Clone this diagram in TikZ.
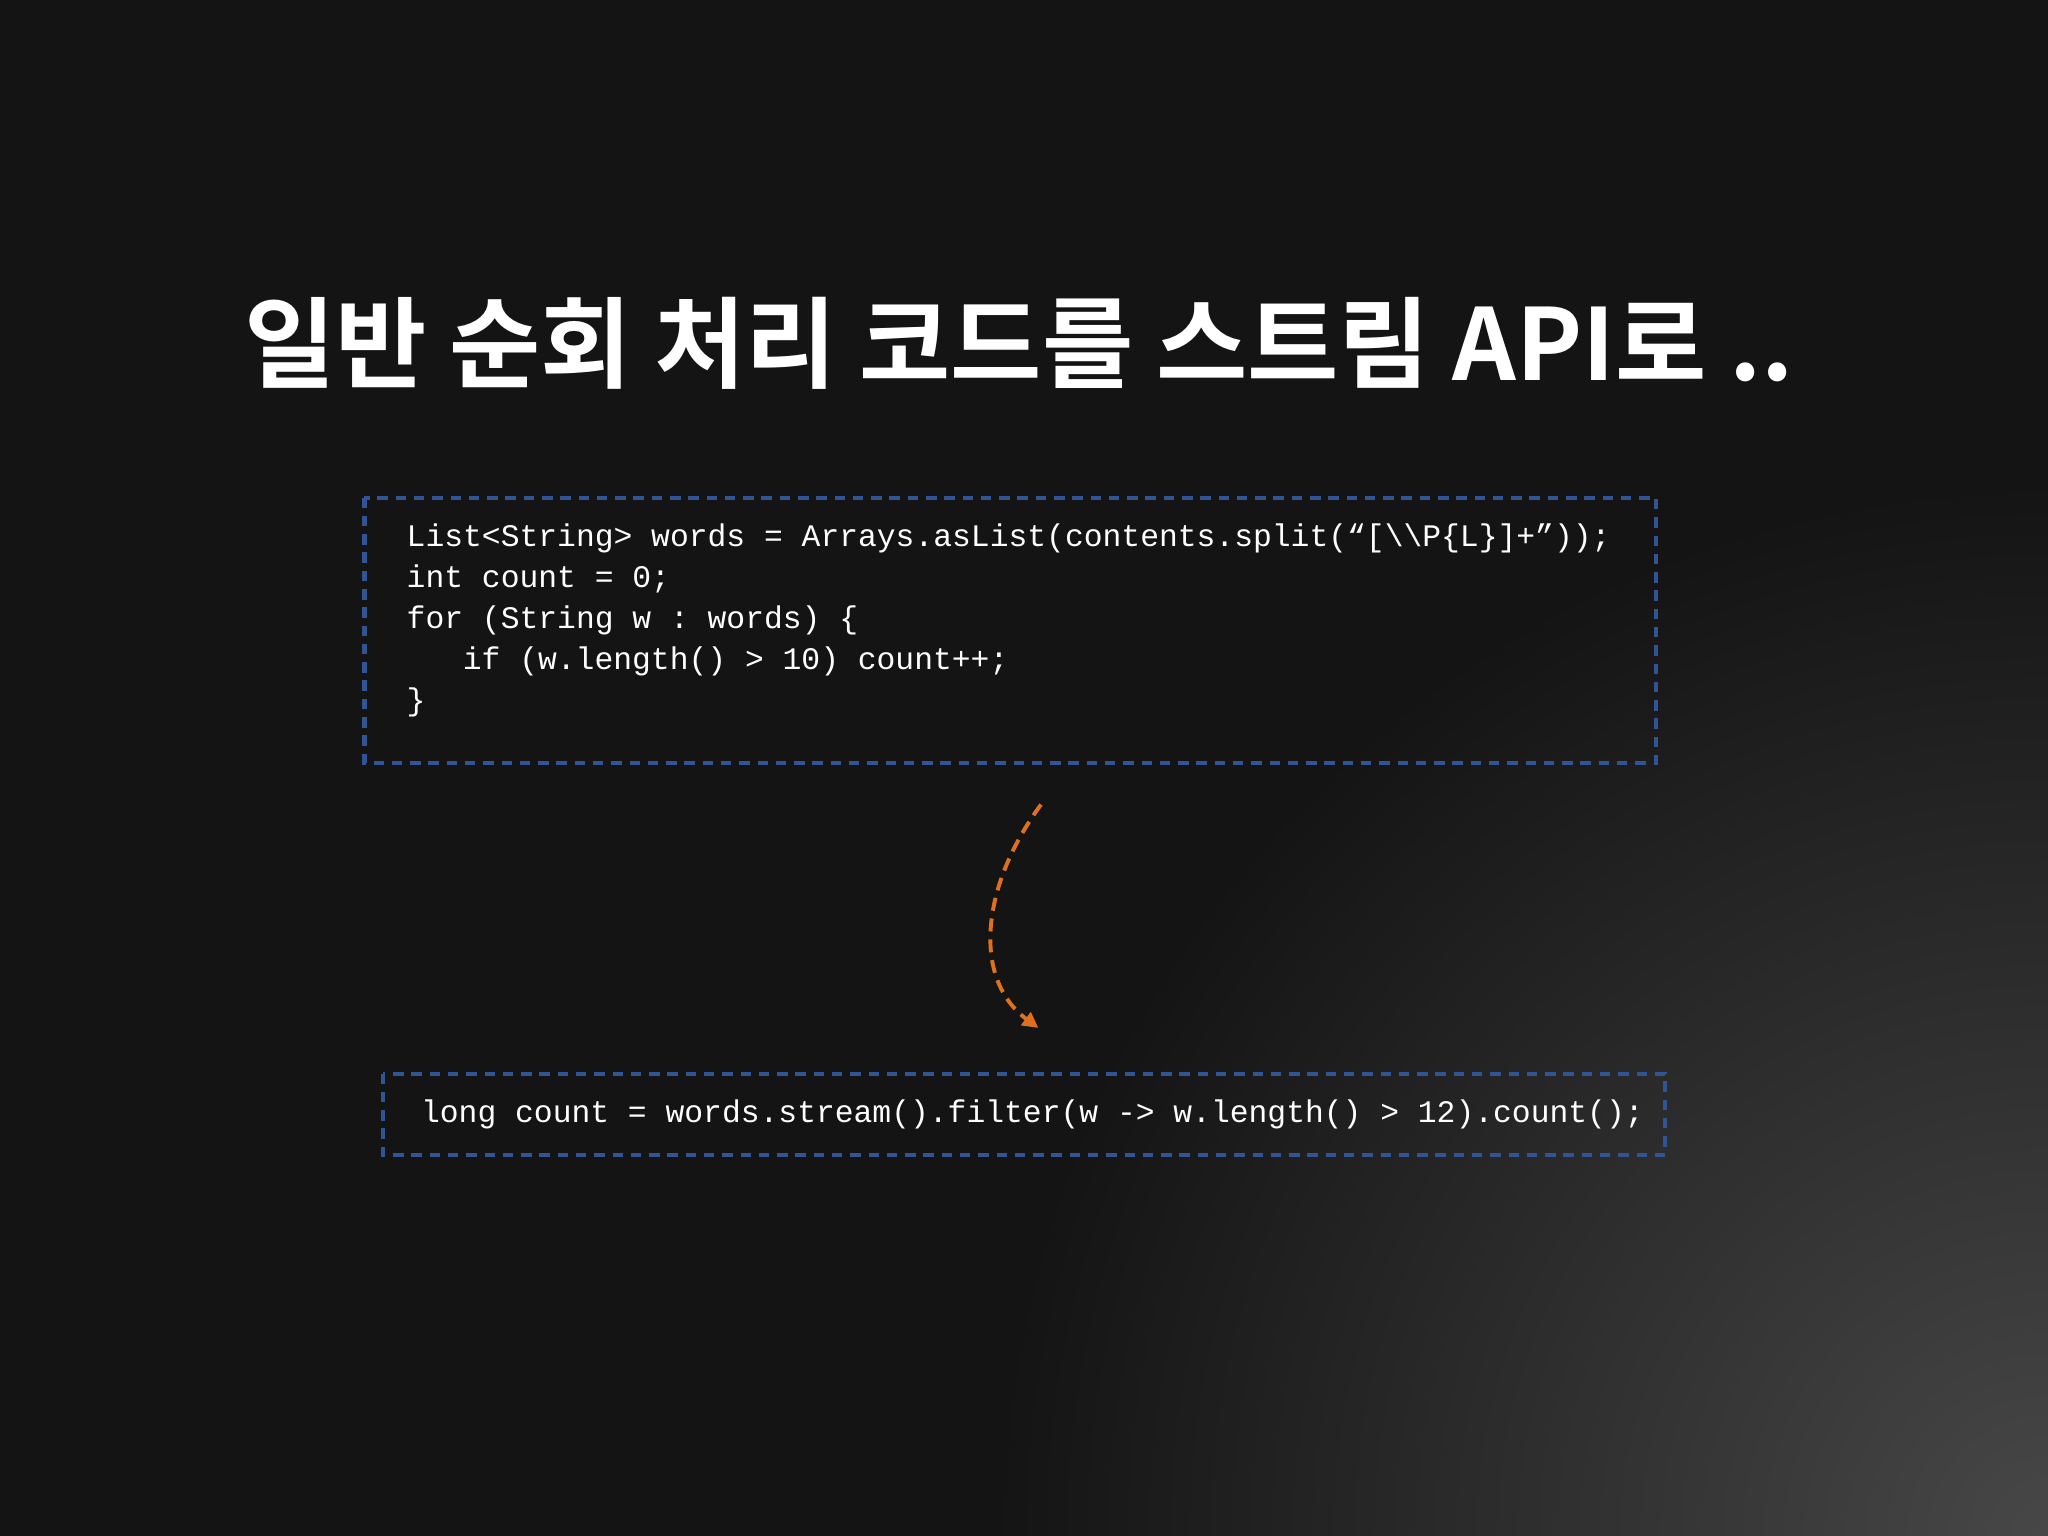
\documentclass[tikz,border=0pt]{standalone}
\usepackage{fontspec}
\setmonofont{Liberation Mono}
\newfontfamily\kr{Noto Sans CJK KR Bold}
\usetikzlibrary{arrows.meta}
\definecolor{boxblue}{HTML}{2F5597}
\definecolor{arrorange}{HTML}{E0701E}
\tikzset{
 codebox/.style={draw=boxblue,line width=1.6pt,dash pattern=on 4pt off 3pt},
 code/.style={anchor=west,text=white,font=\ttfamily\fontsize{12}{14}\selectfont,inner sep=0pt},
 flow/.style={draw=arrorange,line width=1.5pt,dash pattern=on 5pt off 3pt,-{Triangle[length=6pt,width=6pt]}}
}
\begin{document}
\begin{tikzpicture}[x=0.5pt,y=-0.5pt]
\useasboundingbox (0,0) rectangle (1568,1176);
\fill[black!92] (0,0) rectangle (1568,1176);
\begin{scope}
\clip (0,0) rectangle (1568,1176);
\shade[inner color=black!72,outer color=black!92] (1568,1176) circle (800);
\end{scope}
\node[text=white,font=\kr\fontsize{38}{42}\selectfont,anchor=center] (title) at (780,263) {일반 순회 처리 코드를 스트림 API로 ..};
\draw[codebox] (279,381) rectangle (1268,584);
\node[code] (l1) at (311,412) {List<String> words = Arrays.asList(contents.split(“[\textbackslash\textbackslash P\{L\}]+”));};
\node[code] (l2) at (311,443) {int count = 0;};
\node[code] (l3) at (311,475) {for (String w : words) \{};
\node[code] (l4) at (354,506) {if (w.length() > 10) count++;};
\node[code] (l5) at (311,538) {\}};
\draw[codebox] (293,822) rectangle (1275,884);
\node[code] (m1) at (322,853) {long count = words.stream().filter(w -> w.length() > 12).count();};
\coordinate (a) at (797,616);
\coordinate (b) at (795,787);
\draw[flow] (a) .. controls (750,680) and (745,750) .. (b);
\end{tikzpicture}
\end{document}
